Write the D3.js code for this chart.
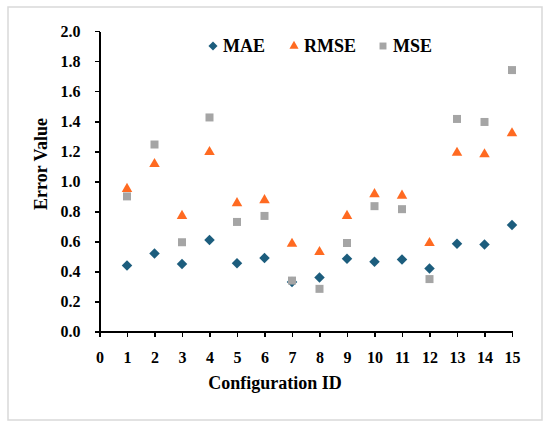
<!DOCTYPE html>
<meta charset="utf-8">
<style>
    body { margin: 0; background: #fff; }
    svg text { font-family: 'Liberation Serif', 'Times New Roman', Tinos, 'DejaVu Serif', serif; font-weight: bold; fill: #000; }
    .axis path, .axis line { stroke: #000; stroke-width: 1.6px; shape-rendering: crispEdges; }
</style>
<svg width="550" height="428"></svg>
<script src="https://d3js.org/d3.v7.min.js"></script>
<script>
    // values
    var ids = [1, 2, 3, 4, 5, 6, 7, 8, 9, 10, 11, 12, 13, 14, 15];
    var mae = [0.44, 0.52, 0.45, 0.61, 0.455, 0.49, 0.33, 0.36, 0.485, 0.465, 0.48, 0.42, 0.585, 0.58, 0.71];
    var rmse = [0.95, 1.115, 0.77, 1.195, 0.855, 0.875, 0.585, 0.53, 0.77, 0.915, 0.905, 0.59, 1.19, 1.18, 1.32];
    var mse = [0.90, 1.245, 0.595, 1.425, 0.73, 0.77, 0.34, 0.285, 0.59, 0.835, 0.815, 0.35, 1.415, 1.395, 1.74];
    var xTicks = d3.range(0, 16);
    var yTicks = [0, 0.2, 0.4, 0.6, 0.8, 1.0, 1.2, 1.4, 1.6, 1.8, 2.0];

    var series = [
        {name: "MAE", values: mae, color: "#1c5d7d", shape: d3.symbolDiamond2, size: 70},
        {name: "RMSE", values: rmse, color: "#ff6a21", shape: d3.symbolTriangle, size: 48},
        {name: "MSE", values: mse, color: "#a5a5a5", shape: d3.symbolSquare, size: 64}
    ];

    var svg = d3.select("svg");

    // outer frame
    svg.append("rect")
        .attr("x", 8).attr("y", 7)
        .attr("width", 534).attr("height", 413)
        .attr("fill", "none")
        .attr("stroke", "#d9d9d9")
        .attr("stroke-width", 1.5);

    var x = d3.scaleLinear().domain([0, 15]).range([99.5, 512]);
    var y = d3.scaleLinear().domain([0, 2]).range([331.7, 31]);

    var xAxis = svg.append("g")
        .attr("class", "x axis")
        .attr("transform", "translate(0," + y(0) + ")")
        .call(d3.axisBottom(x).tickValues(xTicks).tickSize(5).tickSizeOuter(0).tickPadding(15).tickFormat(d3.format("d")));

    var yAxis = svg.append("g")
        .attr("class", "y axis")
        .attr("transform", "translate(" + x(0) + ",0)")
        .call(d3.axisLeft(y).tickValues(yTicks).tickSize(5).tickSizeOuter(0).tickPadding(14).tickFormat(d3.format(".1f")));

    // d3 puts font attributes on the axis group; drop them so the css rule wins
    svg.selectAll(".axis").attr("font-family", null).attr("font-size", null);
    svg.selectAll(".axis text").style("font-size", "16px");

    // axis titles
    svg.append("text")
        .attr("x", 275).attr("y", 389)
        .attr("text-anchor", "middle")
        .style("font-size", "18px")
        .text("Configuration ID");

    svg.append("text")
        .attr("transform", "translate(47,164) rotate(-90)")
        .attr("text-anchor", "middle")
        .style("font-size", "18px")
        .text("Error Value");

    // points, drawn in series order
    series.forEach(function(s) {
        svg.append("g").selectAll("path")
            .data(ids)
            .enter().append("path")
            .attr("d", d3.symbol().type(s.shape).size(s.size))
            .attr("fill", s.color)
            .attr("transform", function(d, i) { return "translate(" + x(d) + "," + y(s.values[i]) + ")"; });
    });

    // legend
    var legendX = [213, 294, 383];
    var legend = svg.append("g").selectAll("g")
        .data(series)
        .enter().append("g")
        .attr("transform", function(d, i) { return "translate(" + legendX[i] + ",46)"; });
    legend.append("path")
        .attr("d", function(d) { return d3.symbol().type(d.shape).size(d.size * 0.75)(); })
        .attr("fill", function(d) { return d.color; });
    legend.append("text")
        .attr("x", 10).attr("y", 6)
        .style("font-size", "18px")
        .text(function(d) { return d.name; });
</script>
